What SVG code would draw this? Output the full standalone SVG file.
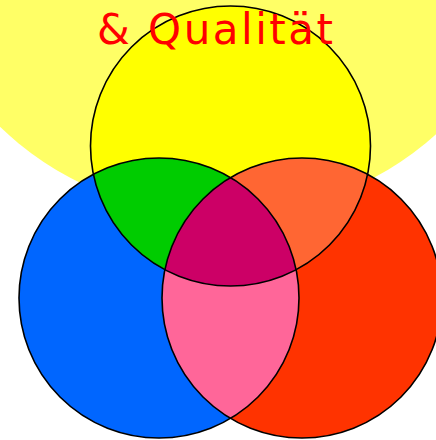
<svg xmlns="http://www.w3.org/2000/svg" width="436" height="440" viewBox="0 0 436 440">
  <style>
    .edge { fill: none; stroke: #000; stroke-width: 1.6; }
    .title { font-family: "DejaVu Sans", Verdana, sans-serif; font-size: 42px; letter-spacing: 2.5px; fill: #ff0000; }
  </style>
  <defs>
    <clipPath id="clipY"><circle cx="230.5" cy="146" r="140"/></clipPath>
    <clipPath id="clipB"><circle cx="159" cy="298" r="140"/></clipPath>
    <clipPath id="clipR"><circle cx="302" cy="298" r="140"/></clipPath>
  </defs>
  <rect width="436" height="440" fill="#ffffff"/>
  <g id="background">
    <circle cx="222" cy="-105" r="321" fill="#ffff66"/>
  </g>
  <g id="yellow">
    <circle cx="230.5" cy="146" r="140" fill="#ffff00"/>
  </g>
  <g id="blue">
    <circle cx="159" cy="298" r="140" fill="#0066ff"/>
  </g>
  <g id="red">
    <circle cx="302" cy="298" r="140" fill="#ff3300"/>
  </g>
  <g id="green-overlap">
    <circle cx="159" cy="298" r="140" fill="#00cc00" clip-path="url(#clipY)"/>
  </g>
  <g id="orange-overlap">
    <circle cx="302" cy="298" r="140" fill="#ff6633" clip-path="url(#clipY)"/>
  </g>
  <g id="pink-overlap">
    <circle cx="302" cy="298" r="140" fill="#ff6699" clip-path="url(#clipB)"/>
  </g>
  <g id="center-overlap" clip-path="url(#clipB)">
    <circle cx="230.5" cy="146" r="140" fill="#cc0066" clip-path="url(#clipR)"/>
  </g>
  <g id="outlines">
    <circle class="edge" cx="230.5" cy="146" r="140"/>
    <circle class="edge" cx="159" cy="298" r="140"/>
    <circle class="edge" cx="302" cy="298" r="140"/>
  </g>
  <g id="title">
    <text class="title" x="97" y="44">&amp; Qualität</text>
  </g>
</svg>
